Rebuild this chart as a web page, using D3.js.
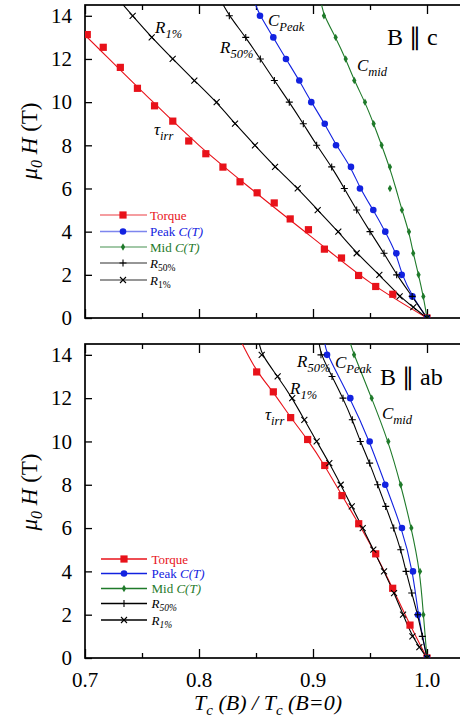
<!DOCTYPE html>
<html>
<head>
<meta charset="utf-8">
<script src="https://cdn.jsdelivr.net/npm/d3@7"></script>
<style>
  body { margin: 0; background: #fff; }
  svg { display: block; }
</style>
</head>
<body>
<svg id="chart" width="460" height="721" font-family="Liberation Serif"></svg>
<script>
// ---- axes ----
const xDomain = [0.7, 1.03];
const fieldMax = 14.5;
const xMajorTicks = [0.7, 0.8, 0.9, 1.0];
const xMinorTicks = [0.75, 0.85, 0.95];
const xTickLabels = ["0.7", "0.8", "0.9", "1.0"];
const yTicks = [0, 2, 4, 6, 8, 10, 12, 14];
const yTickLabels = ["0", "2", "4", "6", "8", "10", "12", "14"];

// ---- B || c ----
const cTorqueX = [0.702, 0.716, 0.731, 0.746, 0.761, 0.777, 0.791, 0.806, 0.821, 0.836, 0.851, 0.866, 0.880, 0.896, 0.910, 0.925, 0.940, 0.955, 0.970, 1.000];
const cTorqueH = [13.13, 12.54, 11.61, 10.64, 9.83, 9.12, 8.20, 7.61, 6.99, 6.31, 5.80, 5.33, 4.59, 4.09, 3.19, 2.78, 1.97, 1.46, 1.10, 0];
const cTorqueFitX = [0.69, 0.70, 0.75, 0.80, 0.85, 0.90, 0.95, 1.00];
const cTorqueFitH = [13.6, 13.1, 10.5, 8.0, 5.8, 3.7, 1.65, 0];

const cFields = [14, 13, 12, 11, 10, 9, 8, 7, 6, 5, 4, 3, 2, 1, 0];
const cPeakX = [0.8535, 0.8652, 0.8763, 0.8880, 0.8985, 0.9103, 0.9202, 0.9333, 0.9412, 0.9529, 0.9634, 0.9731, 0.9778, 0.9872, 1.0];
const cPeakTop = 0.8497;
const cMidX = [0.9096, 0.9199, 0.9287, 0.9362, 0.9456, 0.9532, 0.9602, 0.9675, 0.9675, 0.9780, 0.9842, 0.9879, 0.9926, 0.9968, 1.0];
const cMidFitX = [0.9076, 0.9096, 0.9199, 0.9287, 0.9362, 0.9456, 0.9532, 0.9602, 0.9670, 0.9728, 0.9780, 0.9842, 0.9879, 0.9926, 0.9968, 1.0];
const cR50X = [0.8266, 0.8410, 0.8538, 0.8661, 0.8792, 0.8915, 0.9032, 0.9164, 0.9275, 0.9383, 0.9500, 0.9623, 0.9734, 0.9870, 1.0];
const cR50Top = 0.8213;
const cR1H = [14, 13, 12, 11, 10, 9, 8, 7, 6, 5, 4, 3, 2, 1, 0.5, 0];
const cR1X = [0.7418, 0.7585, 0.7769, 0.7959, 0.8155, 0.8316, 0.8491, 0.8667, 0.8866, 0.9041, 0.9222, 0.9383, 0.9582, 0.9760, 0.9880, 1.0];
const cR1Top = 0.7336;

// ---- B || ab ----
const abTorqueX = [0.8506, 0.8652, 0.8804, 0.8953, 0.9103, 0.9254, 0.9401, 0.9550, 0.9699, 0.9851, 1.0];
const abTorqueH = [13.21, 12.29, 11.10, 10.09, 8.89, 7.50, 6.20, 4.81, 3.22, 1.52, 0];
const abTorqueTop = 0.838;

const abEvenFields = [14, 12, 10, 8, 6, 4, 2, 0];
const abPeakX = [0.9123, 0.9327, 0.9497, 0.9634, 0.9780, 0.9877, 0.9921, 1.0];
const abPeakTop = 0.9105;
const abMidX = [0.9360, 0.9515, 0.9661, 0.9770, 0.9863, 0.9939, 0.9968, 1.0];
const abMidTop = 0.9330;
const abR50H = [14, 13, 12, 11, 10, 9, 8, 7, 6, 5, 4, 3, 2, 1, 0];
const abR50X = [0.9070, 0.9167, 0.9263, 0.9345, 0.9415, 0.9497, 0.9567, 0.9638, 0.9708, 0.9770, 0.9816, 0.9866, 0.9918, 0.9959, 1.0];
const abR50Top = 0.9055;
const abR1H = [14, 13, 12, 11, 10, 9, 8, 7, 6, 5, 4, 3, 2, 1, 0.5, 0];
const abR1X = [0.8550, 0.8690, 0.8818, 0.8924, 0.9032, 0.9143, 0.9243, 0.9340, 0.9436, 0.9529, 0.9623, 0.9711, 0.9790, 0.9872, 0.9933, 1.0];
const abR1Top = 0.853;

const legendNames = ["Torque", "Peak C(T)", "Mid C(T)", "R50%", "R1%"];

// ---- styling ----
const SERIF = "Liberation Serif";
const RED = "#e8121a", BLUE = "#1222e0", GREEN = "#1f7a2a", BLACK = "#000";

const svg = d3.select("#chart");
const x = d3.scaleLinear().domain(xDomain).range([85, 461.2]);

const zip = (xs, hs) => xs.map((v, i) => [v, hs[i]]);

function series(name, color, marker, xs, hs, lineX, lineH, curve) {
  return { name, color, marker, curve, pts: zip(xs, hs), line: zip(lineX, lineH) };
}
const smooth = d3.curveBasis;
const fitCurve = d3.curveCatmullRom.alpha(0.5);

const panelC = {
  id: "c", top: 5, bottom: 318, xLabels: false, legendFaded: true,
  legendX: [100, 147, 123, 150], legendY: [215, 231.5, 247, 263, 280],
  series: [
    series("Torque", RED, "square", cTorqueX, cTorqueH, cTorqueFitX, cTorqueFitH, fitCurve),
    series("Peak", BLUE, "circle", cPeakX, cFields, [cPeakTop, ...cPeakX], [fieldMax, ...cFields], smooth),
    series("Mid", GREEN, "diamond", cMidX, cFields, cMidFitX, [fieldMax, ...cFields], smooth),
    series("R50", BLACK, "plus", cR50X, cFields, [cR50Top, ...cR50X], [fieldMax, ...cFields], smooth),
    series("R1", BLACK, "cross", cR1X, cR1H, [cR1Top, ...cR1X], [fieldMax, ...cR1H], smooth)
  ],
  notes: [
    { x: 155, y: 33, main: "R", sub: "1%" },
    { x: 220, y: 53, main: "R", sub: "50%" },
    { x: 268, y: 26, main: "C", sub: "Peak" },
    { x: 357, y: 71, main: "C", sub: "mid" },
    { x: 154, y: 135, main: "\u03c4", sub: "irr" }
  ],
  tag: { x: 387, y: 45, text: "B \u2225 c" }
};

const panelAB = {
  id: "ab", top: 344, bottom: 658, xLabels: true, legendFaded: false,
  legendX: [101, 147, 124, 151.5], legendY: [559, 573.5, 588.5, 603.5, 620],
  series: [
    series("Torque", RED, "square", abTorqueX, abTorqueH, [abTorqueTop, ...abTorqueX], [fieldMax, ...abTorqueH], smooth),
    series("Peak", BLUE, "circle", abPeakX, abEvenFields, [abPeakTop, ...abPeakX], [fieldMax, ...abEvenFields], smooth),
    series("Mid", GREEN, "diamond", abMidX, abEvenFields, [abMidTop, ...abMidX], [fieldMax, ...abEvenFields], smooth),
    series("R50", BLACK, "plus", abR50X, abR50H, [abR50Top, ...abR50X], [fieldMax, ...abR50H], smooth),
    series("R1", BLACK, "cross", abR1X, abR1H, [abR1Top, ...abR1X], [fieldMax, ...abR1H], smooth)
  ],
  notes: [
    { x: 297, y: 367, main: "R", sub: "50%" },
    { x: 335, y: 368, main: "C", sub: "Peak" },
    { x: 290, y: 394, main: "R", sub: "1%" },
    { x: 382, y: 419, main: "C", sub: "mid" },
    { x: 265, y: 420, main: "\u03c4", sub: "irr" }
  ],
  tag: { x: 380, y: 385, text: "B \u2225 ab" }
};

function drawMarker(g, kind, color) {
  if (kind === "square") {
    g.append("rect").attr("x", -3.6).attr("y", -3.6).attr("width", 7.2).attr("height", 7.2).attr("fill", color);
  } else if (kind === "circle") {
    g.append("circle").attr("r", 3.3).attr("fill", color);
  } else if (kind === "diamond") {
    g.append("path").attr("d", d3.symbol(d3.symbolDiamond, 16)()).attr("fill", color);
  } else if (kind === "plus") {
    g.append("path").attr("d", "M-3.5,0H3.5M0,-3.5V3.5").attr("stroke", color).attr("stroke-width", 1.1);
  } else if (kind === "cross") {
    g.append("path").attr("d", "M-3,-3L3,3M-3,3L3,-3").attr("stroke", color).attr("stroke-width", 1.1);
  }
}

function addText(parent) {
  return parent.append("text").attr("font-family", SERIF).style("font-family", SERIF).attr("fill", "#000");
}

function drawPanel(p) {
  const y = d3.scaleLinear().domain([0, fieldMax]).range([p.bottom, p.top]);
  const g = svg.append("g");

  const clipId = "clip-" + p.id;
  svg.append("clipPath").attr("id", clipId)
    .append("rect").attr("x", x.range()[0]).attr("y", p.top)
    .attr("width", x.range()[1] - x.range()[0]).attr("height", p.bottom - p.top);

  // ticks (all pointing inward)
  const mk = (axisFn, ticks, size) => axisFn(x).tickValues(ticks).tickSize(-size).tickFormat("");
  g.append("g").attr("transform", `translate(0,${p.bottom})`).call(mk(d3.axisBottom, xMajorTicks, 9));
  g.append("g").attr("transform", `translate(0,${p.bottom})`).call(mk(d3.axisBottom, xMinorTicks, 5));
  g.append("g").attr("transform", `translate(0,${p.top})`).call(mk(d3.axisTop, xMajorTicks, 9));
  g.append("g").attr("transform", `translate(0,${p.top})`).call(mk(d3.axisTop, xMinorTicks, 5));
  const yAxis = g.append("g").attr("transform", `translate(${x.range()[0]},0)`)
    .call(d3.axisLeft(y).tickValues(yTicks).tickSize(-7).tickPadding(13)
      .tickFormat((d, i) => yTickLabels[i]));
  g.selectAll(".domain").remove();
  g.selectAll(".tick line").attr("stroke", "#000").attr("stroke-width", 1.3);
  g.selectAll("g").attr("font-family", SERIF);
  yAxis.selectAll("text").attr("font-size", 21).attr("fill", "#000")
    .attr("font-family", SERIF).style("font-family", SERIF);

  if (p.xLabels) {
    g.selectAll(".xlab").data(xMajorTicks).join("text")
      .attr("class", "xlab")
      .attr("font-family", SERIF).style("font-family", SERIF).attr("fill", "#000")
      .attr("x", d => x(d)).attr("y", p.bottom + 29)
      .attr("text-anchor", "middle").attr("font-size", 21)
      .text((d, i) => xTickLabels[i]);
  }

  // frame
  g.append("rect").attr("x", x.range()[0]).attr("y", p.top)
    .attr("width", x.range()[1] - x.range()[0]).attr("height", p.bottom - p.top)
    .attr("fill", "none").attr("stroke", "#000").attr("stroke-width", 1.7);

  // curves and points
  const data = g.append("g").attr("clip-path", `url(#${clipId})`);
  p.series.forEach(s => {
    const line = d3.line().x(d => x(d[0])).y(d => y(d[1])).curve(s.curve);
    data.append("path").attr("d", line(s.line)).attr("fill", "none")
      .attr("stroke", s.color).attr("stroke-width", 1.1);
  });
  p.series.forEach(s => {
    s.pts.forEach(pt => {
      const m = data.append("g").attr("transform", `translate(${x(pt[0])},${y(pt[1])})`);
      drawMarker(m, s.marker, s.color);
    });
  });

  // curve labels
  p.notes.forEach(n => {
    const t = addText(g).attr("x", n.x).attr("y", n.y).attr("font-size", 17)
      .attr("font-style", "italic");
    t.append("tspan").text(n.main);
    t.append("tspan").attr("dy", 5).attr("font-size", 12.5).text(n.sub);
  });

  addText(g).attr("x", p.tag.x).attr("y", p.tag.y).attr("font-size", 24).text(p.tag.text);

  // legend
  const [lx0, lx1, mx, tx] = p.legendX;
  p.series.forEach((s, i) => {
    const ly = p.legendY[i];
    g.append("line").attr("x1", lx0).attr("x2", lx1).attr("y1", ly).attr("y2", ly)
      .attr("stroke", s.color).attr("stroke-width", 1.3)
      .attr("stroke-opacity", p.legendFaded ? 0.55 : 1);
    const m = g.append("g").attr("transform", `translate(${mx},${ly})`);
    drawMarker(m, s.marker, s.color);
    const t = addText(g).attr("x", tx).attr("y", ly + 4.5).attr("font-size", 13)
      .attr("fill", s.color);
    const name = legendNames[i];
    if (name.endsWith("C(T)")) {
      t.append("tspan").text(name.slice(0, -4));
      t.append("tspan").attr("font-style", "italic").text("C(T)");
    } else if (name.startsWith("R")) {
      t.append("tspan").attr("font-style", "italic").text("R");
      t.append("tspan").attr("dy", 3).attr("font-size", 9.5)
        .attr("font-style", p.legendFaded ? "normal" : "italic").text(name.slice(1));
    } else {
      t.text(name);
    }
  });
}

drawPanel(panelC);
drawPanel(panelAB);

// axis titles
const yTitleCenters = [141, 492];
yTitleCenters.forEach(cy => {
  const t = addText(svg).attr("transform", `translate(37,${cy}) rotate(-90)`)
    .attr("text-anchor", "middle").attr("font-size", 23);
  t.append("tspan").attr("font-style", "italic").text("\u03bc");
  t.append("tspan").attr("font-style", "italic").attr("font-size", 16).attr("dy", 5).text("0");
  t.append("tspan").attr("font-style", "italic").attr("dy", -5).text(" H");
  t.append("tspan").text(" (T)");
});

const xt = addText(svg).attr("x", 268).attr("y", 710).attr("text-anchor", "middle")
  .attr("font-size", 22).attr("font-style", "italic");
xt.append("tspan").text("T");
xt.append("tspan").attr("font-size", 15).attr("dy", 5).text("c");
xt.append("tspan").attr("dy", -5).text(" (B) / T");
xt.append("tspan").attr("font-size", 15).attr("dy", 5).text("c");
xt.append("tspan").attr("dy", -5).text(" (B=0)");
</script>
</body>
</html>
